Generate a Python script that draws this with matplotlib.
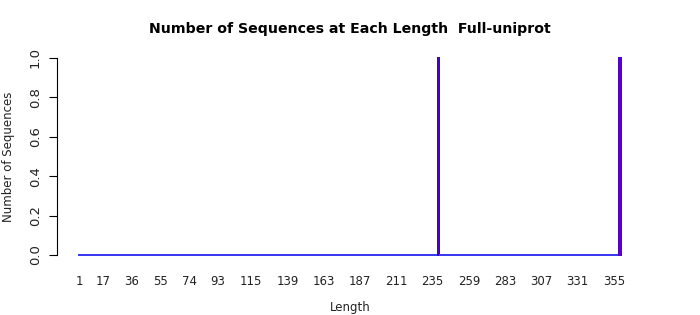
import matplotlib
matplotlib.use("Agg")
import matplotlib.pyplot as plt
import numpy as np

# Data
lengths = list(range(1, 360))
counts = [0] * len(lengths)
peak_lengths = [239, 359]
peak_counts = [1, 1]
for L, c in zip(peak_lengths, peak_counts):
    counts[L - 1] = c
tick_labels = [1, 17, 36, 55, 74, 93, 115, 139, 163, 187, 211, 235, 259, 283, 307, 331, 355]
yticks = [0.0, 0.2, 0.4, 0.6, 0.8, 1.0]

title = "Number of Sequences at Each Length  Full-uniprot"

W, H = 700, 315
fig = plt.figure(figsize=(W / 100, H / 100), dpi=100)
ax_left, ax_right = 57, 640
ax_top, ax_bottom = 48, 265
ax = fig.add_axes([ax_left / W, 1 - ax_bottom / H, (ax_right - ax_left) / W, (ax_bottom - ax_top) / H])

scale = 1.511
x0 = 1 + (ax_left - 79) / scale
x1 = 1 + (ax_right - 79) / scale
ax.set_xlim(x0, x1)
yscale = 255 - 58
y0 = -(ax_bottom - 255) / yscale
y1 = 1 + (58 - ax_top) / yscale
ax.set_ylim(y0, y1)

colors = []
for L, c in zip(lengths, counts):
    if c == 0:
        colors.append("#3a3af0")
    elif L == 359:
        colors.append("#5500cc")
    else:
        colors.append("#4400cc")

ax.bar(lengths, counts, width=1.0, color=colors, edgecolor=colors, linewidth=0.35,
       antialiased=False)

for s in ["top", "right", "bottom"]:
    ax.spines[s].set_visible(False)
ax.spines["left"].set_bounds(0, 1)
ax.spines["left"].set_position(("data", x0))
ax.spines["left"].set_linewidth(0.8)

ax.set_yticks(yticks)
ax.set_yticklabels([f"{v:.1f}" for v in yticks], rotation=90, va="center", fontsize=9.5, color="#222222")
ax.tick_params(axis="y", length=6, width=0.8, pad=5)

ax.set_xticks(tick_labels)
ax.set_xticklabels([str(v) for v in tick_labels], fontsize=8.5, color="#222222")
ax.tick_params(axis="x", length=0, pad=7)

fig.text(350 / W, 1 - 307 / H, "Length", ha="center", va="center", fontsize=8.5, color="#222222")
fig.text(9 / W, 1 - 157 / H, "Number of Sequences", ha="center", va="center", rotation=90, fontsize=8.5, color="#222222")
fig.text(350 / W, 1 - 29 / H, title, ha="center", va="center", fontsize=10.2, fontweight="bold")

fig.savefig("out.png", dpi=100)
